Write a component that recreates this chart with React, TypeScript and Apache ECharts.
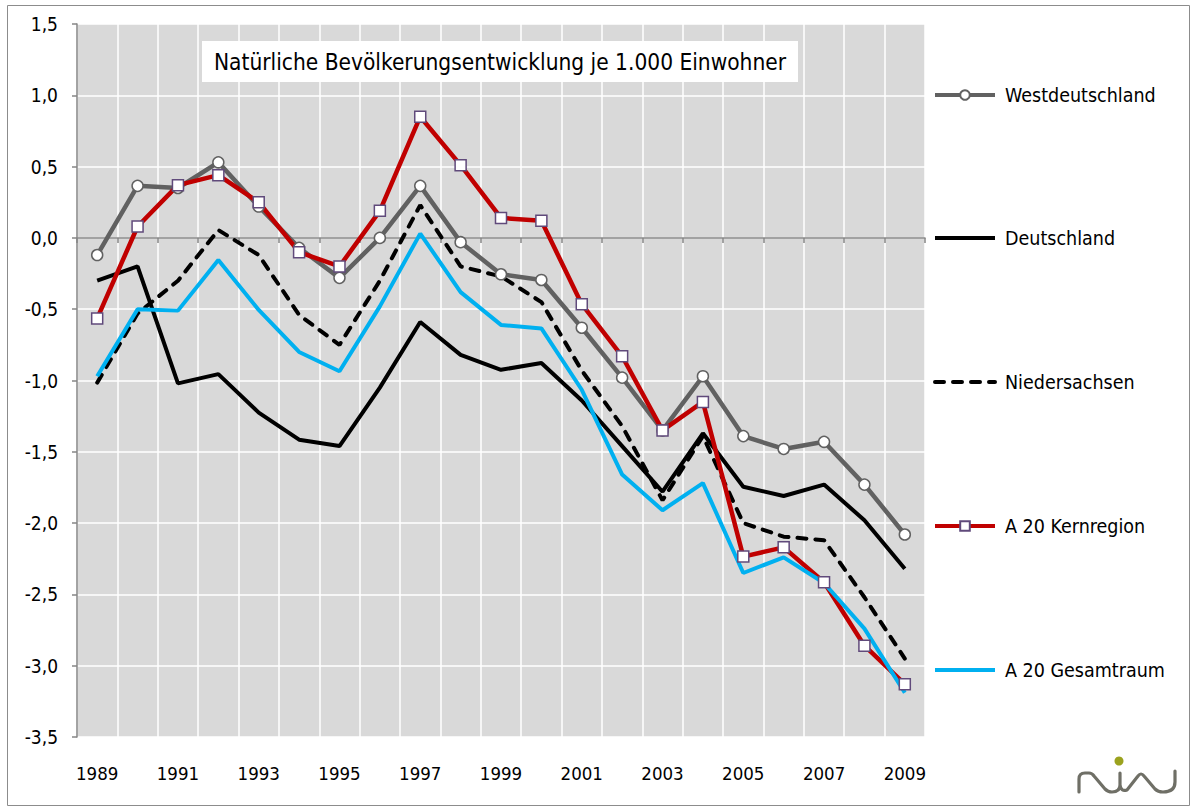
import React, { useEffect, useRef } from "react";
import * as echarts from "echarts";

const years = ["1989","1990","1991","1992","1993","1994","1995","1996","1997","1998","1999","2000","2001","2002","2003","2004","2005","2006","2007","2008","2009"];
const westdeutschland = [-0.12, 0.365, 0.35, 0.53, 0.22, -0.07, -0.28, 0.0, 0.365, -0.03, -0.255, -0.295, -0.63, -0.98, -1.35, -0.97, -1.39, -1.48, -1.43, -1.73, -2.08];
const deutschland = [-0.30, -0.20, -1.02, -0.955, -1.225, -1.415, -1.46, -1.05, -0.59, -0.82, -0.925, -0.877, -1.14, -1.46, -1.78, -1.37, -1.745, -1.81, -1.73, -1.98, -2.32];
const niedersachsen = [-1.015, -0.53, -0.3, 0.055, -0.12, -0.54, -0.75, -0.3, 0.23, -0.2, -0.27, -0.45, -0.93, -1.32, -1.84, -1.39, -2.0, -2.095, -2.12, -2.52, -2.95];
const kernregion = [-0.565, 0.08, 0.37, 0.44, 0.25, -0.10, -0.2, 0.19, 0.85, 0.51, 0.14, 0.12, -0.465, -0.83, -1.35, -1.15, -2.235, -2.17, -2.415, -2.86, -3.13];
const gesamtraum = [-0.97, -0.50, -0.51, -0.155, -0.505, -0.80, -0.935, -0.48, 0.03, -0.38, -0.61, -0.635, -1.065, -1.66, -1.91, -1.72, -2.35, -2.24, -2.42, -2.74, -3.19];
const seriesNames = ["Westdeutschland", "Deutschland", "Niedersachsen", "A 20 Kernregion", "A 20 Gesamtraum"];
const titleText = "Natürliche Bevölkerungsentwicklung je 1.000 Einwohner";

const FONT = "'DejaVu Sans Condensed', 'DejaVu Sans', sans-serif";

const logoPath =
  "M1079 792 L1079 779 Q1079 773 1085 773 L1089 773 Q1092 773 1094 776 L1105 789 Q1108 792 1112 792 Q1120 792 1120 785 L1120 773 " +
  "M1120 785 Q1121 792 1127 790 L1138 776 Q1141 772 1144 776 L1155 789 Q1158 792 1163 792 Q1175 792 1175 782 L1175 771";

let registered = false;

export default function App() {
  const ref = useRef<HTMLDivElement>(null);
  useEffect(() => {
    if (!ref.current) return;
    if (!registered) {
      echarts.graphic.registerShape("logo", echarts.graphic.extendPath(logoPath, {}));
      registered = true;
    }
    const chart = echarts.init(ref.current, null, { renderer: "svg" });
    const legendY = [96, 239, 383, 527, 671];
    const hasSymbol = [true, false, false, true, false];
    const legends = seriesNames.map((n, i) => ({
      data: [hasSymbol[i] ? { name: n } : { name: n, itemStyle: { opacity: 0 } }],
      left: 933,
      top: legendY[i] - 11,
      padding: 0,
      itemWidth: 60,
      itemHeight: 12,
      itemGap: 0,
      lineStyle: { width: 4 },
      textStyle: { fontSize: 19.5, color: "#000", fontFamily: FONT, padding: [0, 0, 0, 5] },
    }));
    chart.setOption({
      animation: false,
      backgroundColor: "#fff",
      legend: legends,
      grid: {
        left: 77, top: 24, right: 272, bottom: 74,
        show: true, backgroundColor: "#D9D9D9", borderWidth: 0,
      },
      xAxis: [
        {
          type: "category", data: years, position: "bottom", boundaryGap: true,
          axisLine: { show: false, onZero: false },
          axisTick: { show: false },
          axisLabel: { interval: 1, margin: 27, fontSize: 18.5, color: "#000", fontFamily: FONT },
          splitLine: { show: true, interval: 0, lineStyle: { color: "#fff", width: 1.5 } },
        },
        {
          type: "category", data: years, position: "top", boundaryGap: true,
          axisLine: { show: true, onZero: true, lineStyle: { color: "#868686", width: 1.5 } },
          axisTick: { show: true, inside: true, length: 5, interval: 0, lineStyle: { color: "#868686", width: 1.5 } },
          axisLabel: { show: false },
          splitLine: { show: false },
        },
      ],
      yAxis: {
        type: "value", min: -3.5, max: 1.5, interval: 0.5,
        axisLine: { show: true, lineStyle: { color: "#868686", width: 1.5 } },
        axisTick: { show: true, length: 5, lineStyle: { color: "#868686", width: 1.5 } },
        axisLabel: {
          margin: 19, fontSize: 19, color: "#000", fontFamily: FONT,
          formatter: (v: number) => (Math.abs(v) < 1e-9 ? 0 : v).toFixed(1).replace(".", ","),
        },
        splitLine: { show: true, lineStyle: { color: "#fff", width: 1.5 } },
      },
      series: [
        {
          name: seriesNames[0], type: "line", data: westdeutschland, xAxisIndex: 0,
          symbol: "circle", symbolSize: 11, showAllSymbol: true,
          lineStyle: { color: "#616161", width: 4.5 },
          itemStyle: { color: "#fff", borderColor: "#616161", borderWidth: 1.5 },
          color: "#616161",
        },
        {
          name: seriesNames[1], type: "line", data: deutschland, xAxisIndex: 0,
          symbol: "none", lineStyle: { color: "#000", width: 4 }, color: "#000",
        },
        {
          name: seriesNames[2], type: "line", data: niedersachsen, xAxisIndex: 0,
          symbol: "none", lineStyle: { color: "#000", width: 4, type: [9, 9], cap: "round" }, color: "#000",
        },
        {
          name: seriesNames[3], type: "line", data: kernregion, xAxisIndex: 0,
          symbol: "rect", symbolSize: 11, showAllSymbol: true,
          lineStyle: { color: "#C00000", width: 4.5 },
          itemStyle: { color: "#fff", borderColor: "#604A7B", borderWidth: 1.5 },
          color: "#C00000",
        },
        {
          name: seriesNames[4], type: "line", data: gesamtraum, xAxisIndex: 0,
          symbol: "none", lineStyle: { color: "#00B0F0", width: 4 }, color: "#00B0F0",
        },
      ],
      graphic: [
        {
          type: "rect", shape: { x: 7.5, y: 5.5, width: 1182, height: 800 },
          style: { fill: "none", stroke: "#8C8C8C", lineWidth: 1 }, silent: true, z: -10,
        },
        {
          type: "rect", shape: { x: 202, y: 41, width: 596, height: 41 },
          style: { fill: "#fff" }, z: 50,
        },
        {
          type: "text", x: 500, y: 62, z: 51,
          style: { text: titleText, fontSize: 22.5, fontFamily: FONT, fill: "#000", align: "center", verticalAlign: "middle" },
        },
        {
          type: "logo", x: 0, y: 0, z: 51,
          style: { fill: "none", stroke: "#6F6F66", lineWidth: 3.2, lineCap: "round", lineJoin: "round" },
        },
        {
          type: "circle", shape: { cx: 1119, cy: 761, r: 4.5 }, z: 51,
          style: { fill: "#9BA21E" },
        },
      ],
    });
    return () => chart.dispose();
  }, []);
  return <div ref={ref} style={{ position: "absolute", left: 0, top: 0, width: 1197, height: 811 }} />;
}
